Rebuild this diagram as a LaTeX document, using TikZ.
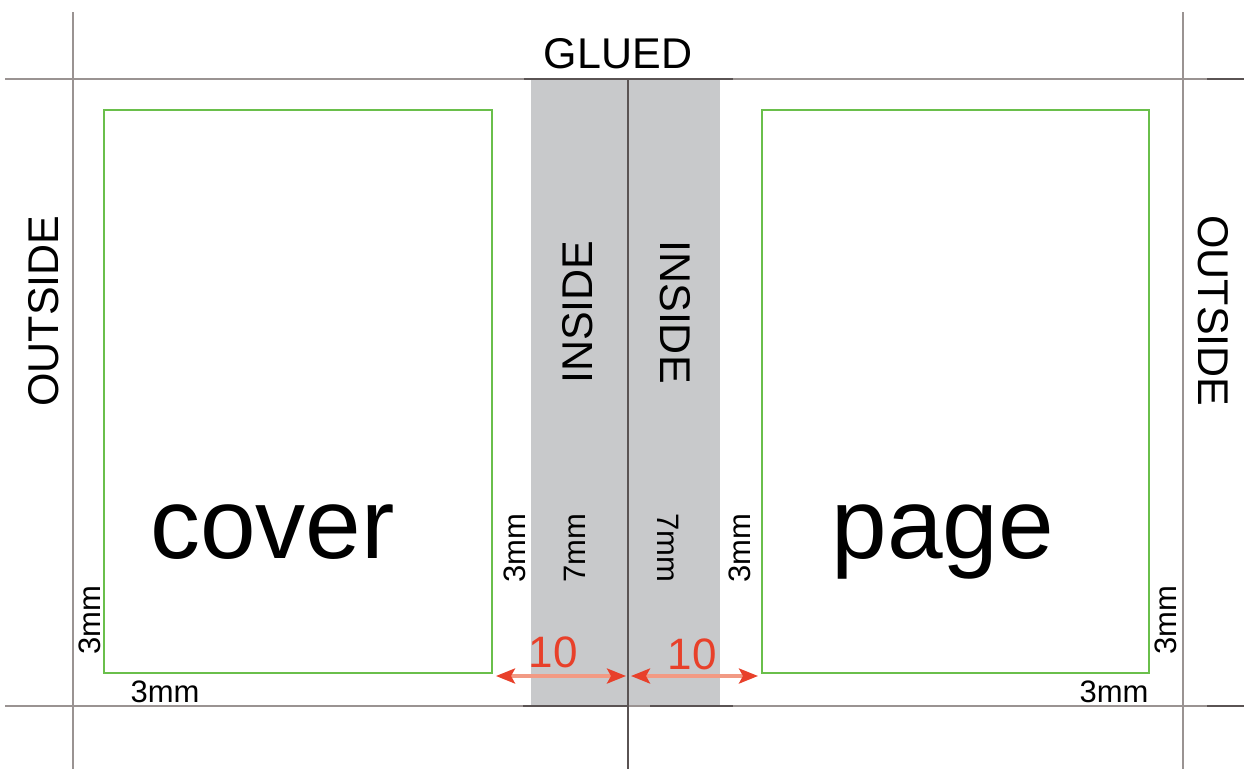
\documentclass[tikz,border=0pt]{standalone}
\usepackage{fontspec}
\setmainfont{Liberation Sans}
\usetikzlibrary{arrows.meta}
\definecolor{guide}{HTML}{9A9392}
\definecolor{guidedark}{HTML}{5A5353}
\definecolor{bandgray}{HTML}{C8C9CB}
\definecolor{trimgreen}{HTML}{6ABF4B}
\definecolor{tipred}{HTML}{E8402A}
\definecolor{shaftred}{HTML}{F29A84}
\tikzset{
  guideline/.style={draw=guide, line width=1.6pt},
  darkseg/.style={draw=guidedark, line width=1.6pt},
  trimbox/.style={draw=trimgreen, line width=1.8pt},
  lbl/.style={inner sep=0pt, font=\fontsize{43}{43}\selectfont},
  small/.style={inner sep=0pt, font=\fontsize{31}{31}\selectfont},
  big/.style={inner sep=0pt, anchor=base, font=\fontsize{100}{100}\selectfont},
  redlbl/.style={inner sep=0pt, text=tipred, font=\fontsize{44}{44}\selectfont},
  dimarrow/.style={draw=shaftred, line width=3.4pt,
    {Stealth[length=19pt,width=15pt,inset=4pt,color=tipred]}-{Stealth[length=19pt,width=15pt,inset=4pt,color=tipred]}}
}
\begin{document}
\begin{tikzpicture}[x=1pt,y=-1pt]
\useasboundingbox[fill=white] (0,0) rectangle (1244,769);
% gray glue band
\fill[bandgray] (531,79) rectangle (720,706);
% guide lines
\draw[guideline] (73,12) -- (73,769);
\draw[guideline] (1183,12) -- (1183,769);
\draw[guideline] (5,79) -- (1244,79);
\draw[guideline] (5,706) -- (1244,706);
\draw[darkseg] (524,79) -- (733,79);
\draw[darkseg] (523,706) -- (627,706);
\draw[darkseg] (650,706) -- (733,706);
\draw[darkseg] (1207,79) -- (1244,79);
\draw[darkseg] (1207,706) -- (1244,706);
\draw[draw=guidedark, line width=1.4pt] (628,79) -- (628,769);
% trim boxes
\draw[trimbox] (104,110) rectangle (492,673);
\draw[trimbox] (762,110) rectangle (1149,673);
% labels
\node[lbl] (glued) at (618,54) {GLUED};
\node[lbl, rotate=90] (outl) at (44,311) {OUTSIDE};
\node[lbl, rotate=-90] (outr) at (1213,311) {OUTSIDE};
\node[lbl, rotate=90] (insl) at (578,312) {INSIDE};
\node[lbl, rotate=-90] (insr) at (675,312) {INSIDE};
\node[big] (cover) at (272.5,558) {cover};
\node[big] (page) at (943,558) {page};
\node[small, rotate=90] (m3a) at (515,548) {3mm};
\node[small, rotate=90] (m7a) at (575,548) {7mm};
\node[small, rotate=-90] (m7b) at (668,548) {7mm};
\node[small, rotate=90] (m3b) at (740,548) {3mm};
\node[small, rotate=90] (m3c) at (90,620) {3mm};
\node[small, rotate=90] (m3d) at (1166,620) {3mm};
\node[small] (m3e) at (165,692) {3mm};
\node[small] (m3f) at (1114,692) {3mm};
\node[redlbl] (ten1) at (553,652) {10};
\node[redlbl] (ten2) at (692,654) {10};
% dimension arrows
\coordinate (a1) at (496,676);
\coordinate (a2) at (626,676);
\coordinate (b1) at (631,676);
\coordinate (b2) at (758,676);
\draw[dimarrow] (a1) -- (a2);
\draw[dimarrow] (b1) -- (b2);
\end{tikzpicture}
\end{document}
